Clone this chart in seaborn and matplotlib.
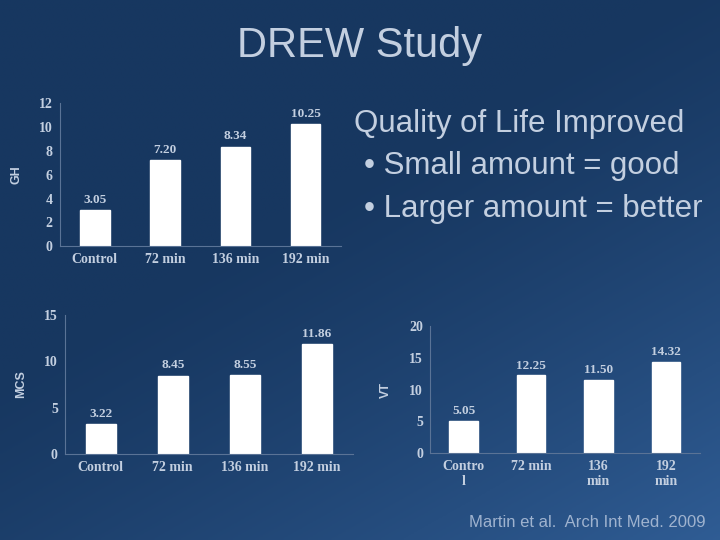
import numpy as np
import pandas as pd
import matplotlib
matplotlib.use('Agg')
import matplotlib.pyplot as plt
import seaborn as sns

grupos = ['Control', '72 min', '136 min', '192 min']
grupos_vt = ['Contro\nl', '72 min', '136\nmin', '192\nmin']
gh = [3.05, 7.20, 8.34, 10.25]
mcs = [3.22, 8.45, 8.55, 11.86]
vt = [5.05, 12.25, 11.50, 14.32]

sns.set_style('white')
plt.rcParams['font.family'] = ['Liberation Sans', 'DejaVu Sans']

fundo = '#1b3d68'
texto = '#c3cfe0'

fig = plt.figure(figsize=(7.2, 5.4), dpi=100)

# Fundo em degradê (azul escuro -> azul mais claro no canto inferior direito)
bg = fig.add_axes([0, 0, 1, 1], zorder=-10)
yy, xx = np.mgrid[0:1:200j, 0:1:200j]
grad = np.clip((xx * 0.6 + yy * 0.8) - 0.55, 0, 1)
c0 = np.array([0x17, 0x37, 0x60]) / 255
c1 = np.array([0x35, 0x65, 0xa0]) / 255
img = c0[None, None, :] + (c1 - c0)[None, None, :] * grad[:, :, None] ** 1.3
bg.imshow(img, extent=[0, 1, 0, 1], aspect='auto', origin='upper')
bg.axis('off')

fig.text(0.5, 0.915, 'DREW Study', ha='center', va='center', fontsize=30, color=texto)


def grafico(pos, valores, rotulos, ylabel, yticks):
    ax = fig.add_axes(pos)
    df = pd.DataFrame({'grupo': rotulos, 'valor': valores})
    sns.barplot(data=df, x='grupo', y='valor', color='white', width=0.42,
                saturation=1, ax=ax)
    ax.set_facecolor('none')
    ax.set_ylim(0, yticks[-1])
    ax.set_yticks(yticks)
    for lado in ['top', 'right']:
        ax.spines[lado].set_visible(False)
    for lado in ['left', 'bottom']:
        ax.spines[lado].set_color('#5a7396')
        ax.spines[lado].set_linewidth(0.8)
    ax.tick_params(colors=texto, labelsize=10, length=0, pad=5)
    for t in ax.get_xticklabels() + ax.get_yticklabels():
        t.set_family('Liberation Serif')
        t.set_weight('bold')
    ax.set_xlabel('')
    ax.set_ylabel(ylabel, color=texto, fontsize=9, labelpad=12, weight='bold')
    for p, v in zip(ax.patches, valores):
        ax.text(p.get_x() + p.get_width() / 2, p.get_height() + yticks[-1] * 0.03,
                f'{v:.2f}', ha='center', va='bottom', fontsize=9.5,
                color=texto, family='Liberation Serif', weight='bold')
    return ax


grafico([0.083, 0.544, 0.39, 0.265], gh, grupos, 'GH', [0, 2, 4, 6, 8, 10, 12])
grafico([0.09, 0.159, 0.40, 0.258], mcs, grupos, 'MCS', [0, 5, 10, 15])
grafico([0.597, 0.161, 0.375, 0.235], vt, grupos_vt, 'VT', [0, 5, 10, 15, 20])

fig.text(0.492, 0.77, 'Quality of Life Improved', fontsize=22.5, color=texto, va='center')
fig.text(0.505, 0.693, '• Small amount = good', fontsize=22.5, color=texto, va='center')
fig.text(0.505, 0.613, '• Larger amount = better', fontsize=22.5, color=texto, va='center')

fig.text(0.98, 0.033, 'Martin et al.  Arch Int Med. 2009', ha='right', va='center',
         fontsize=12, color='#9fb3cf')

fig.savefig('out.png', dpi=100, facecolor=fundo)
plt.close()
